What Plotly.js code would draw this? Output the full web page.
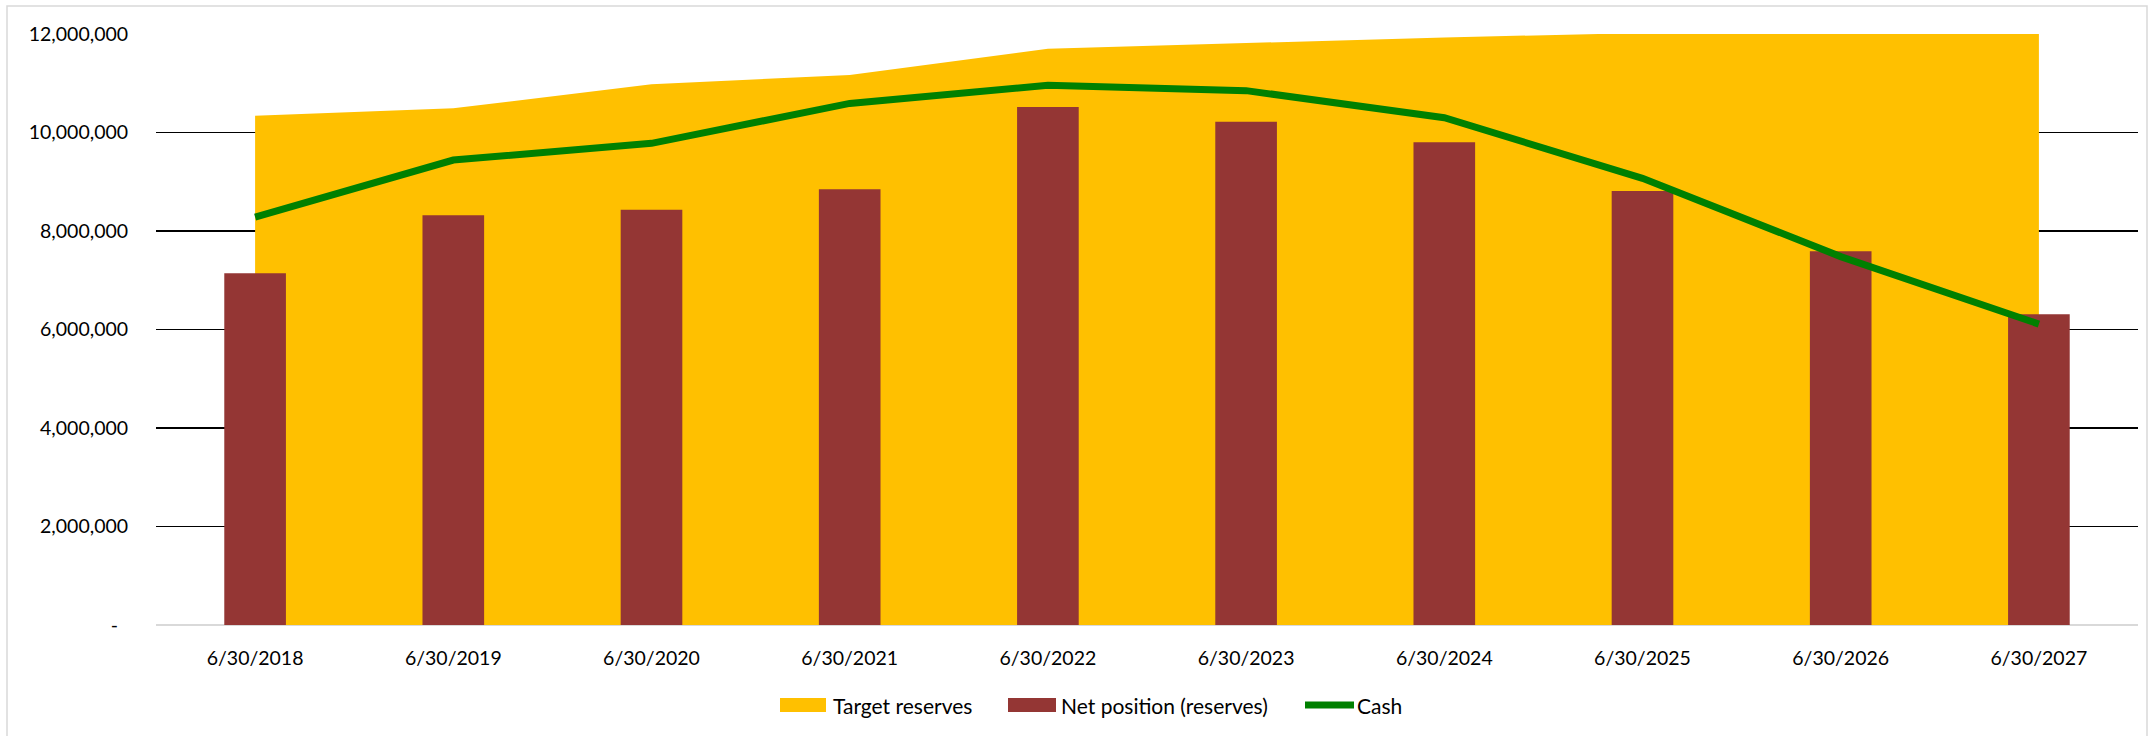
<!DOCTYPE html>
<html>
<head>
<meta charset="utf-8">
<script src="https://cdn.plot.ly/plotly-3.0.1.min.js"></script>
<style>
  html, body { margin: 0; padding: 0; background: #fff; }
  #chart { width: 2150px; height: 736px; }
</style>
</head>
<body>
<div id="chart"></div>
<script>
// ---- data ----
var dates = ["6/30/2018", "6/30/2019", "6/30/2020", "6/30/2021", "6/30/2022",
             "6/30/2023", "6/30/2024", "6/30/2025", "6/30/2026", "6/30/2027"];
var targetReserves = [10340000, 10490000, 10980000, 11170000, 11700000,
                      11820000, 11930000, 12020000, 12150000, 12300000];
var netPosition = [7140000, 8320000, 8430000, 8850000, 10520000,
                   10220000, 9800000, 8810000, 7590000, 6310000];
var cash = [8280000, 9440000, 9780000, 10590000, 10960000,
            10850000, 10300000, 9070000, 7480000, 6110000];
var seriesNames = ["Target reserves", "Net position (reserves)", "Cash"];
var seriesColors = ["#FFC000", "#943634", "#008000"];
var yTickVals = [0, 2000000, 4000000, 6000000, 8000000, 10000000, 12000000];
var yTickText = ["-\u00a0\u00a0", "2,000,000", "4,000,000", "6,000,000", "8,000,000", "10,000,000", "12,000,000"];

var FONT = "Lato, 'Open Sans', sans-serif";

var traces = [
  {
    type: "scatter", name: seriesNames[0], x: dates, y: targetReserves,
    xaxis: "x", yaxis: "y", showlegend: false,
    mode: "lines", line: { width: 0, color: seriesColors[0] },
    fill: "tozeroy", fillcolor: seriesColors[0]
  },
  {
    type: "bar", name: seriesNames[1], x: dates, y: netPosition,
    xaxis: "x", yaxis: "y2", showlegend: false,
    marker: { color: seriesColors[1], line: { width: 0 } }
  },
  {
    type: "scatter", name: seriesNames[2], x: dates, y: cash,
    xaxis: "x", yaxis: "y2", showlegend: false,
    mode: "lines", line: { color: seriesColors[2], width: 7 }
  }
];

var L = 156, R = 12, T = 34, B = 111;
var W = 2150, H = 736;
var pw = W - L - R, ph = H - T - B;
function px(x) { return (x - L) / pw; }
function py(y) { return (H - B - y) / ph; }

// legend (drawn as key swatches + text labels, Excel style)
var legY = 705;
var legendShapes = [
  { type: "rect", xref: "paper", yref: "paper", x0: px(780), x1: px(826), y0: py(712), y1: py(698),
    fillcolor: seriesColors[0], line: { width: 0 } },
  { type: "rect", xref: "paper", yref: "paper", x0: px(1008), x1: px(1056), y0: py(712), y1: py(698),
    fillcolor: seriesColors[1], line: { width: 0 } },
  { type: "line", xref: "paper", yref: "paper", x0: px(1305), x1: px(1354), y0: py(legY), y1: py(legY),
    line: { color: seriesColors[2], width: 7 } }
];
var legendText = [
  { x: px(832), text: seriesNames[0] },
  { x: px(1060), text: seriesNames[1] },
  { x: px(1356), text: seriesNames[2] }
].map(function (a) {
  return {
    xref: "paper", yref: "paper", x: a.x, y: py(legY), xanchor: "left", yanchor: "middle",
    text: a.text, showarrow: false, borderpad: 0,
    font: { family: FONT, size: 21, color: "#000000" }
  };
});

var layout = {
  width: W, height: H,
  margin: { l: L, r: R, t: T, b: B, pad: 0 },
  paper_bgcolor: "#ffffff", plot_bgcolor: "rgba(0,0,0,0)",
  font: { family: FONT, size: 19.5, color: "#000000" },
  showlegend: false,
  barmode: "overlay", bargap: 0.689,
  xaxis: {
    type: "category", showgrid: false, zeroline: false, showline: false,
    ticks: "outside", ticklen: 16, tickcolor: "rgba(0,0,0,0)",
    tickfont: { family: FONT, size: 19.5, color: "#000000" },
    fixedrange: true
  },
  yaxis: {
    range: [0, 12000000], tickvals: yTickVals, ticktext: yTickText,
    showgrid: true, gridcolor: "#000000", gridwidth: 1.6,
    zeroline: true, zerolinecolor: "#d9d9d9", zerolinewidth: 1.5,
    showline: false, ticks: "outside", ticklen: 23, tickcolor: "rgba(0,0,0,0)",
    tickfont: { family: FONT, size: 19.5, color: "#000000" },
    fixedrange: true
  },
  yaxis2: {
    range: [0, 12000000], overlaying: "y", side: "left",
    showgrid: false, zeroline: false, showline: false, showticklabels: false,
    ticks: "", fixedrange: true
  },
  shapes: [
    {
      type: "rect", xref: "paper", yref: "paper",
      x0: px(7), x1: px(2147), y0: py(738), y1: py(6),
      line: { color: "#d9d9d9", width: 1.5 }, fillcolor: "rgba(0,0,0,0)", layer: "below"
    }
  ].concat(legendShapes),
  annotations: legendText
};

Plotly.newPlot("chart", traces, layout, { displayModeBar: false, staticPlot: true });
</script>
</body>
</html>
